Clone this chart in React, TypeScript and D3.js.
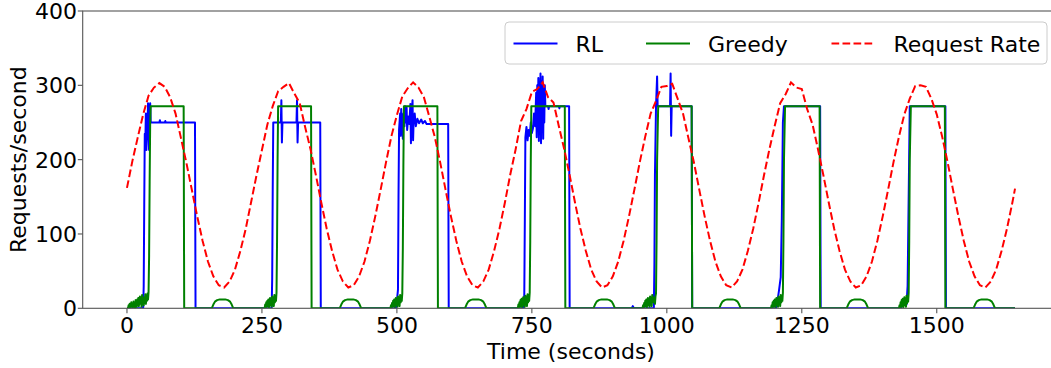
import { useEffect, useRef } from 'react';
import * as d3 from 'd3';

const WIDTH = 1051;
const HEIGHT = 368;

// request rate sampled every 10 s from t = 0, plus the last point
const RATE_STEP = 10;
const requestRate = [
  162, 198, 230, 261, 286, 297, 303, 298, 284, 262, 229, 196, 160, 124, 91, 63, 43, 31, 28, 36, 52, 77, 107, 143,
  179, 213, 247, 272, 292, 298, 303, 289, 276, 244, 214, 179, 142, 107, 77, 52, 36, 28, 31, 43, 63, 91, 124,
  160, 197, 232, 260, 285, 296, 304, 297, 284, 258, 231, 197, 160, 124, 91, 63, 43, 31, 28, 36, 52, 77, 107, 142,
  180, 214, 252, 268, 291, 295, 304, 284, 277, 245, 214, 179, 142, 107, 77, 52, 36, 28, 31, 43, 63, 91, 124,
  160, 197, 231, 262, 279, 298, 299, 302, 282, 262, 229, 197, 160, 124, 91, 63, 43, 31, 28, 36, 52, 77, 107, 142,
  179, 214, 246, 276, 288, 304, 297, 295, 268, 247, 214, 179, 142, 107, 77, 52, 36, 28, 31, 43, 63, 91, 124,
  160, 197, 231, 261, 282, 299, 300, 298, 282, 261, 231, 197, 160, 124, 91, 63, 43, 31, 28, 36, 52, 77, 107, 142,
];
const rateTail: [number, number] = [1645, 161];

const greedy: [number, number][] = [
  [0, 0], [2, 0], [3, 4], [4, 1], [5, 6], [6, 0], [7, 3], [8, 8], [9, 2], [10, 5], [11, 1], [12, 9], [13, 3], [14, 7],
  [15, 0], [16, 11], [17, 4], [18, 2], [19, 12], [20, 5], [21, 14], [22, 3], [23, 9], [24, 16], [25, 6], [26, 11],
  [27, 2], [28, 18], [29, 7], [30, 13], [31, 4], [32, 15], [33, 9], [34, 19], [35, 6], [36, 14], [37, 10], [38, 20],
  [39, 12], [40, 22], [41, 70], [42, 170], [43, 250], [44, 272], [105, 272], [106, 0],
  [157, 0], [160, 5], [163, 9], [167, 11], [172, 12], [182, 12], [187, 11], [191, 9], [194, 5], [197, 0],
  [255, 0], [256, 5], [257, 1], [258, 8], [259, 2], [260, 10], [261, 3], [262, 12], [263, 1], [264, 9], [265, 14],
  [266, 4], [267, 11], [268, 2], [269, 16], [270, 6], [271, 13], [272, 3], [273, 18], [274, 8], [275, 15], [276, 10],
  [277, 21], [278, 90], [279, 200], [280, 272], [341, 272], [342, 0],
  [394, 0], [397, 5], [400, 9], [404, 11], [409, 12], [419, 12], [424, 11], [428, 9], [431, 5], [434, 0],
  [488, 0], [489, 4], [490, 1], [491, 7], [492, 2], [493, 10], [494, 3], [495, 12], [496, 1], [497, 9], [498, 14],
  [499, 4], [500, 11], [501, 2], [502, 16], [503, 6], [504, 13], [505, 3], [506, 18], [507, 8], [508, 15], [509, 10],
  [510, 20], [511, 80], [512, 190], [513, 272], [575, 272], [576, 0],
  [626, 0], [629, 5], [632, 9], [636, 11], [641, 12], [651, 12], [656, 11], [660, 9], [663, 5], [666, 0],
  [724, 0], [725, 5], [726, 1], [727, 8], [728, 2], [729, 11], [730, 3], [731, 13], [732, 1], [733, 10], [734, 15],
  [735, 4], [736, 12], [737, 2], [738, 17], [739, 6], [740, 14], [741, 3], [742, 19], [743, 8], [744, 15], [745, 10],
  [746, 21], [747, 90], [748, 200], [749, 272], [811, 272], [812, 0],
  [864, 0], [867, 5], [870, 9], [874, 11], [879, 12], [889, 12], [894, 11], [898, 9], [901, 5], [904, 0],
  [955, 0], [956, 4], [957, 1], [958, 7], [959, 2], [960, 10], [961, 3], [962, 12], [963, 1], [964, 9], [965, 14],
  [966, 4], [967, 11], [968, 2], [969, 16], [970, 6], [971, 13], [972, 3], [973, 18], [974, 8], [975, 15], [976, 9],
  [977, 12], [978, 6], [979, 16], [980, 20], [981, 90], [982, 200], [984, 272], [1046, 272], [1047, 0],
  [1097, 0], [1100, 5], [1103, 9], [1107, 11], [1112, 12], [1122, 12], [1127, 11], [1131, 9], [1134, 5], [1137, 0],
  [1193, 0], [1194, 4], [1195, 1], [1196, 8], [1197, 2], [1198, 10], [1199, 3], [1200, 12], [1201, 1], [1202, 9],
  [1203, 14], [1204, 4], [1205, 11], [1206, 2], [1207, 16], [1208, 6], [1209, 13], [1210, 3], [1211, 18], [1212, 8],
  [1213, 15], [1214, 10], [1215, 21], [1216, 90], [1217, 200], [1219, 272], [1283, 272], [1284, 0],
  [1333, 0], [1336, 5], [1339, 9], [1343, 11], [1348, 12], [1358, 12], [1363, 11], [1367, 9], [1370, 5], [1373, 0],
  [1430, 0], [1431, 4], [1432, 1], [1433, 8], [1434, 2], [1435, 11], [1436, 3], [1437, 13], [1438, 1], [1439, 10],
  [1440, 15], [1441, 4], [1442, 12], [1443, 2], [1444, 17], [1445, 7], [1446, 14], [1447, 9], [1448, 21],
  [1449, 90], [1450, 200], [1452, 272], [1515, 272], [1516, 0],
  [1568, 0], [1571, 5], [1574, 9], [1578, 11], [1583, 12], [1593, 12], [1598, 11], [1602, 9], [1605, 5], [1608, 0],
  [1645, 0],
];

const rl: [number, number][] = [
  [0, 0], [30, 0], [31, 30], [32, 140], [33, 235], [34, 222], [35, 262], [36, 213], [37, 258], [38, 240], [39, 276],
  [40, 228], [41, 213], [42, 270], [43, 276], [44, 250], [60, 250], [61, 253], [62, 250], [70, 250], [71, 252],
  [72, 250], [126, 250], [127, 0],
  [268, 0], [269, 40], [270, 160], [271, 250], [285, 250], [286, 280], [287, 223], [288, 250], [314, 250],
  [315, 280], [316, 223], [317, 250], [358, 250], [359, 0],
  [498, 0], [500, 10], [502, 25], [503, 150], [504, 240], [506, 262], [507, 232], [508, 268], [509, 238], [510, 255],
  [511, 228], [512, 262], [514, 245], [515, 272], [516, 250], [518, 270], [519, 240], [521, 258], [523, 248],
  [525, 275], [526, 222], [527, 260], [529, 280], [530, 226], [531, 252], [533, 262], [535, 245], [538, 255],
  [541, 249], [545, 254], [548, 249], [552, 252], [555, 248], [595, 248], [596, 0],
  [735, 0], [736, 20], [737, 120], [738, 230], [740, 244], [742, 226], [744, 240], [746, 232], [748, 250], [750, 236],
  [752, 242], [754, 262], [756, 245], [758, 290], [759, 230], [760, 300], [761, 240], [762, 310], [763, 225],
  [764, 295], [765, 260], [766, 316], [767, 222], [768, 305], [769, 245], [770, 312], [771, 228], [772, 290],
  [773, 250], [774, 300], [775, 272], [780, 272], [781, 268], [782, 272], [800, 272], [801, 269], [802, 272],
  [819, 272], [820, 0],
  [935, 0], [937, 3], [939, 0], [976, 0], [977, 60], [978, 180], [980, 272], [982, 312], [983, 272], [1006, 272],
  [1007, 316], [1008, 232], [1009, 272], [1046, 272], [1047, 0],
  [1202, 0], [1205, 10], [1208, 25], [1211, 42], [1213, 120], [1215, 250], [1217, 272], [1284, 272], [1285, 0],
  [1434, 0], [1436, 6], [1440, 8], [1444, 5], [1446, 30], [1448, 150], [1450, 272], [1516, 272], [1517, 0],
  [1645, 0],
];

const xTicks = [0, 250, 500, 750, 1000, 1250, 1500];
const yTicks = [0, 100, 200, 300, 400];

const legendItems = [
  { label: 'RL', color: '#0000ff', dash: '' },
  { label: 'Greedy', color: '#008000', dash: '' },
  { label: 'Request Rate', color: '#ff0000', dash: '7.7,3.3' },
];

export default function App() {
  const svgRef = useRef<SVGSVGElement>(null);

  useEffect(() => {
    if (!svgRef.current) return;
    const svg = d3.select(svgRef.current);
    svg.selectAll('*').remove();

    const left = 82.7;
    const right = 1059.3;
    const top = 11;
    const bottom = 308.3;
    const font = 'DejaVu Sans, sans-serif';
    const fontSize = 22;
    const spine = '#555';
    const lw = 2;

    const x = d3.scaleLinear().domain([-82, 1727]).range([left, right]);
    const y = d3.scaleLinear().domain([0, 400]).range([bottom, top]);

    svg.append('defs').append('clipPath').attr('id', 'plot')
      .append('rect')
      .attr('x', left).attr('y', top)
      .attr('width', right - left).attr('height', bottom - top);

    const line = d3.line<[number, number]>()
      .x(d => x(d[0]))
      .y(d => y(d[1]));

    const ratePoints: [number, number][] = requestRate.map((v, i) => [i * RATE_STEP, v]);
    ratePoints.push(rateTail);

    const plot = svg.append('g').attr('clip-path', 'url(#plot)');

    plot.append('path')
      .attr('d', line(rl))
      .attr('fill', 'none')
      .attr('stroke', '#0000ff')
      .attr('stroke-width', lw)
      .attr('stroke-linejoin', 'round');

    plot.append('path')
      .attr('d', line(greedy))
      .attr('fill', 'none')
      .attr('stroke', '#008000')
      .attr('stroke-width', lw)
      .attr('stroke-linejoin', 'round');

    plot.append('path')
      .attr('d', line(ratePoints))
      .attr('fill', 'none')
      .attr('stroke', '#ff0000')
      .attr('stroke-width', lw)
      .attr('stroke-dasharray', '7.7,3.3');

    // Spines
    svg.append('rect')
      .attr('x', left).attr('y', top)
      .attr('width', right - left).attr('height', bottom - top)
      .attr('fill', 'none')
      .attr('stroke', spine)
      .attr('stroke-width', 1.1);

    // X axis
    const xg = svg.append('g');
    xTicks.forEach(t => {
      xg.append('line')
        .attr('x1', x(t)).attr('x2', x(t))
        .attr('y1', bottom).attr('y2', bottom + 4.9)
        .attr('stroke', spine)
        .attr('stroke-width', 1.1);
      xg.append('text')
        .attr('x', x(t)).attr('y', 333)
        .attr('text-anchor', 'middle')
        .attr('font-family', font)
        .attr('font-size', fontSize)
        .attr('fill', '#000')
        .text(t);
    });

    // Y axis
    const yg = svg.append('g');
    yTicks.forEach(t => {
      yg.append('line')
        .attr('x1', left - 4.9).attr('x2', left)
        .attr('y1', y(t)).attr('y2', y(t))
        .attr('stroke', spine)
        .attr('stroke-width', 1.1);
      yg.append('text')
        .attr('x', 77).attr('y', y(t) + 8)
        .attr('text-anchor', 'end')
        .attr('font-family', font)
        .attr('font-size', fontSize)
        .attr('fill', '#000')
        .text(t);
    });

    // Axis labels
    svg.append('text')
      .attr('x', (left + right) / 2).attr('y', 359)
      .attr('text-anchor', 'middle')
      .attr('font-family', font)
      .attr('font-size', fontSize)
      .text('Time (seconds)');

    svg.append('text')
      .attr('transform', `translate(26,${(top + bottom) / 2}) rotate(-90)`)
      .attr('text-anchor', 'middle')
      .attr('font-family', font)
      .attr('font-size', fontSize)
      .text('Requests/second');

    // Legend
    const lg = svg.append('g');
    lg.append('rect')
      .attr('x', 505).attr('y', 22)
      .attr('width', 542).attr('height', 42)
      .attr('rx', 4)
      .attr('fill', '#fff')
      .attr('fill-opacity', 0.8)
      .attr('stroke', '#ccc');

    const itemX = [513.5, 646, 831.5];
    legendItems.forEach((item, i) => {
      lg.append('line')
        .attr('x1', itemX[i]).attr('x2', itemX[i] + 44)
        .attr('y1', 43.5).attr('y2', 43.5)
        .attr('stroke', item.color)
        .attr('stroke-width', lw)
        .attr('stroke-dasharray', item.dash || null);
      lg.append('text')
        .attr('x', itemX[i] + 62).attr('y', 51.5)
        .attr('font-family', font)
        .attr('font-size', fontSize)
        .attr('fill', '#000')
        .text(item.label);
    });
  }, []);

  return (
    <svg
      ref={svgRef}
      width={WIDTH}
      height={HEIGHT}
      style={{ position: 'absolute', left: 0, top: 0, background: '#fff' }}
    />
  );
}
